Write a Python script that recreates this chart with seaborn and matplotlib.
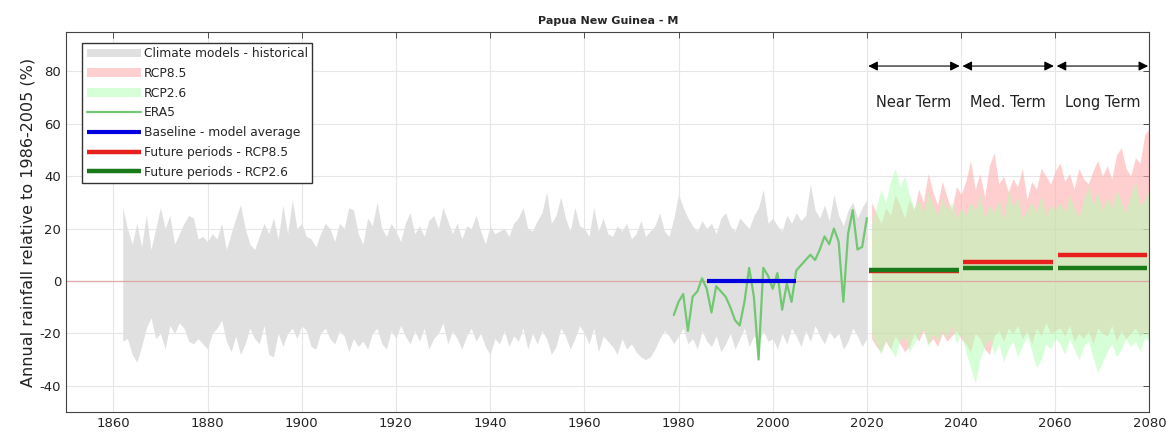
import matplotlib
matplotlib.use('Agg')
import matplotlib.pyplot as plt
import numpy as np
import pandas as pd
import seaborn as sns

# historical model envelope, 1862-2020 (% relative to 1986-2005)
hist_years = list(range(1862, 2021))
hist_upper = [
    28, 20, 14, 22, 13, 25, 12, 20,
    28, 20, 25, 14, 18, 22, 25, 24, 16, 17,
    15, 18, 16, 22, 12, 18, 24, 29, 20, 14,
    12, 17, 22, 18, 24, 16, 29, 18, 31, 20,
    22, 17, 16, 13, 18, 22, 20, 15, 22, 20,
    28, 27, 18, 14, 24, 21, 30, 20, 17, 22,
    19, 15, 22, 26, 18, 21, 17, 23, 25, 20,
    28, 23, 18, 22, 16, 21, 20, 25, 19, 14,
    21, 18, 19, 20, 17, 22, 24, 28, 20, 19,
    23, 26, 34, 22, 25, 32, 24, 19, 28, 21,
    20, 17, 28, 19, 24, 18, 17, 21, 19, 22,
    16, 18, 23, 17, 19, 21, 26, 19, 17, 24,
    33, 28, 24, 21, 19, 23, 20, 22, 18, 24,
    26, 21, 19, 24, 22, 20, 25, 28, 35, 22,
    24, 21, 19, 25, 22, 26, 23, 25, 37, 27,
    24, 29, 23, 33, 25, 21, 27, 30, 24, 28, 31,
]
hist_lower = [
    -23, -22, -28, -31, -25, -18, -14, -22,
    -20, -26, -17, -20, -16, -18, -23, -24, -22, -24,
    -26, -20, -18, -15, -23, -27, -21, -28, -24, -18,
    -22, -24, -17, -28, -29, -20, -25, -20, -18, -22,
    -17, -19, -25, -26, -20, -18, -22, -24, -19, -21,
    -27, -22, -25, -23, -26, -20, -18, -24, -26, -19,
    -22, -17, -21, -24, -19, -23, -18, -26, -22, -20,
    -16, -24, -19, -22, -26, -21, -18, -23, -20, -25,
    -28, -22, -24, -19, -25, -21, -23, -18, -26, -20,
    -24, -19, -22, -28, -25, -18, -21, -26, -22, -17,
    -20, -24, -18, -27, -21, -23, -25, -28, -22, -26,
    -24, -27, -29, -30, -29, -26, -22, -19, -21, -24,
    -21, -18, -24, -22, -26, -19, -23, -25, -21, -27,
    -24, -20, -26, -22, -18, -25, -21, -24, -19, -23,
    -22, -26, -20, -24, -18, -21, -25, -19, -23, -17,
    -21, -24, -19, -22, -20, -26, -23, -18, -21, -25, -22,
]

# future envelopes, 2021-2080
fut_years = list(range(2021, 2081))
rcp85_upper = [
    30, 26, 22, 28, 25, 33, 29, 24, 31, 27,
    35, 30, 41, 34, 29, 38, 32, 27, 36, 33,
    38, 46, 35, 41, 32, 44, 49, 37, 40, 34,
    39, 36, 43, 31, 38, 35, 43, 40, 37, 42,
    45, 38, 41, 35, 43, 39, 37, 42, 46, 40,
    44, 39, 48, 51, 43, 40, 47, 45, 56, 58,
]
rcp85_lower = [
    -22, -25, -27, -23, -26, -21, -24, -27, -25, -20,
    -23, -19, -24, -22, -25, -20, -23, -21, -19, -22,
    -24, -27, -20, -22, -26, -28, -21, -19, -23, -18,
    -20, -17, -22, -19, -24, -18, -21, -16, -20, -19,
    -18, -21, -17, -23, -20, -22, -19, -24, -18, -20,
    -21, -17, -23, -19, -22, -20, -18, -21, -19, -22,
]
rcp26_upper = [
    22, 28, 35, 30, 38, 43, 36, 40, 33, 28,
    31, 26, 34, 29, 25, 32, 27, 30, 24, 28,
    25, 30, 27, 33, 24, 29, 26, 31, 23, 35,
    28, 32, 24, 27, 30, 26, 33, 25, 29, 27,
    30, 26, 33, 28, 24, 31, 36, 29, 34, 27,
    32, 28, 35, 30, 26, 33, 38, 29, 31, 35,
]
rcp26_lower = [
    -20, -24, -28, -22, -26, -29, -23, -21, -27, -24,
    -21, -18, -25, -20, -23, -19, -22, -17, -24, -20,
    -27, -33, -39, -30, -25, -22, -28, -24, -31, -26,
    -23, -29, -25, -21, -27, -33, -30, -24, -26, -22,
    -24, -28, -22, -26, -30, -25, -23, -29, -35, -31,
    -27, -24, -29, -26, -22, -25, -23, -27, -21, -24,
]

# ERA5 reanalysis, 1979-2020
era5_years = list(range(1979, 2021))
era5 = [
    -13, -8, -5, -19, -6, -4, 1, -3, -12, -2,
    -4, -6, -10, -15, -17, -8, 5, -6, -30, 5,
    2, -3, 3, -11, -1, -8, 4, 6, 8, 10,
    8, 12, 17, 14, 20, 15, -8, 18, 27, 12,
    13, 24,
]

# baseline and future period means
baseline_years = [1986, 2005]
baseline_value = 0
period_names = ['Near Term', 'Med. Term', 'Long Term']
period_start = [2020.5, 2040.5, 2060.5]
period_end = [2039.5, 2059.5, 2079.5]
rcp85_change = [3.8, 7.2, 10.0]
rcp26_change = [4.0, 5.0, 5.0]

sns.set_theme(style="whitegrid")
plt.rcParams['font.family'] = ['DejaVu Sans']
plt.rcParams['axes.unicode_minus'] = False

fig = plt.figure(figsize=(11.72, 4.38), dpi=100)
ax = fig.add_axes([0.0565, 0.0594, 0.9243, 0.8676])
ax.set_facecolor('white')

h_hist = ax.fill_between(hist_years, hist_lower, hist_upper, color='#e0e0e0', lw=0,
                         label='Climate models - historical')
h85 = ax.fill_between(fut_years, rcp85_lower, rcp85_upper, color='#ffb0b0', alpha=0.6, lw=0,
                      label='RCP8.5')
h26 = ax.fill_between(fut_years, rcp26_lower, rcp26_upper, color='#b0ffb0', alpha=0.5, lw=0,
                      label='RCP2.6')

ax.axhline(0, color='#e0a8a8', lw=0.9, zorder=2)

era = pd.DataFrame({'year': era5_years, 'value': era5})
sns.lineplot(data=era, x='year', y='value', color='#72c872', lw=1.6, ax=ax, label='ERA5')

h_base, = ax.plot(baseline_years, [baseline_value] * 2, color='#0000e0', lw=3, solid_capstyle='butt',
                  label='Baseline - model average')
for i in range(3):
    h_r, = ax.plot([period_start[i], period_end[i]], [rcp85_change[i]] * 2, color='#e8201c', lw=3.2,
                   solid_capstyle='butt', label='Future periods - RCP8.5')
    h_g, = ax.plot([period_start[i], period_end[i]], [rcp26_change[i]] * 2, color='#1a7a1a', lw=3.2,
                   solid_capstyle='butt', label='Future periods - RCP2.6')

for i in range(3):
    x0 = period_start[i] - 0.5
    x1 = period_end[i] + 0.5
    ax.annotate('', xy=(x1, 82), xytext=(x0, 82),
                arrowprops=dict(arrowstyle='<|-|>', color='black', lw=0.8,
                                mutation_scale=14, shrinkA=1, shrinkB=1))
    ax.text((x0 + x1) / 2, 68, period_names[i], ha='center', va='center', fontsize=10.5, color='#222222')

h_era = ax.get_lines()[1]
handles = [h_hist, h85, h26, h_era, h_base, h_r, h_g]
ax.legend(handles=handles, labels=[h.get_label() for h in handles], loc='upper left',
          bbox_to_anchor=(0.015, 0.971), fontsize=8.8, frameon=True, fancybox=False,
          edgecolor='#333333', framealpha=1, handlelength=4.4, labelspacing=0.55,
          borderpad=0.35, handletextpad=0.3, borderaxespad=0)

ax.set_xlim(1850, 2080)
ax.set_ylim(-50, 95)
ax.set_xticks(range(1860, 2081, 20))
ax.set_yticks(range(-40, 81, 20))
ax.tick_params(direction='in', length=4, width=0.6, colors='#333333', labelsize=9.5,
               top=True, right=True, labelcolor='#222222')
ax.grid(True, color='#e6e6e6', lw=0.8)
for s in ax.spines.values():
    s.set_color('#444444')
    s.set_linewidth(0.8)
ax.set_xlabel('')
ax.set_ylabel('Annual rainfall relative to 1986-2005 (%)', fontsize=11.5, color='#222222', labelpad=3)
ax.set_title('Papua New Guinea - M', fontsize=8, fontweight='bold', pad=6)

fig.savefig('out.png', dpi=100)
